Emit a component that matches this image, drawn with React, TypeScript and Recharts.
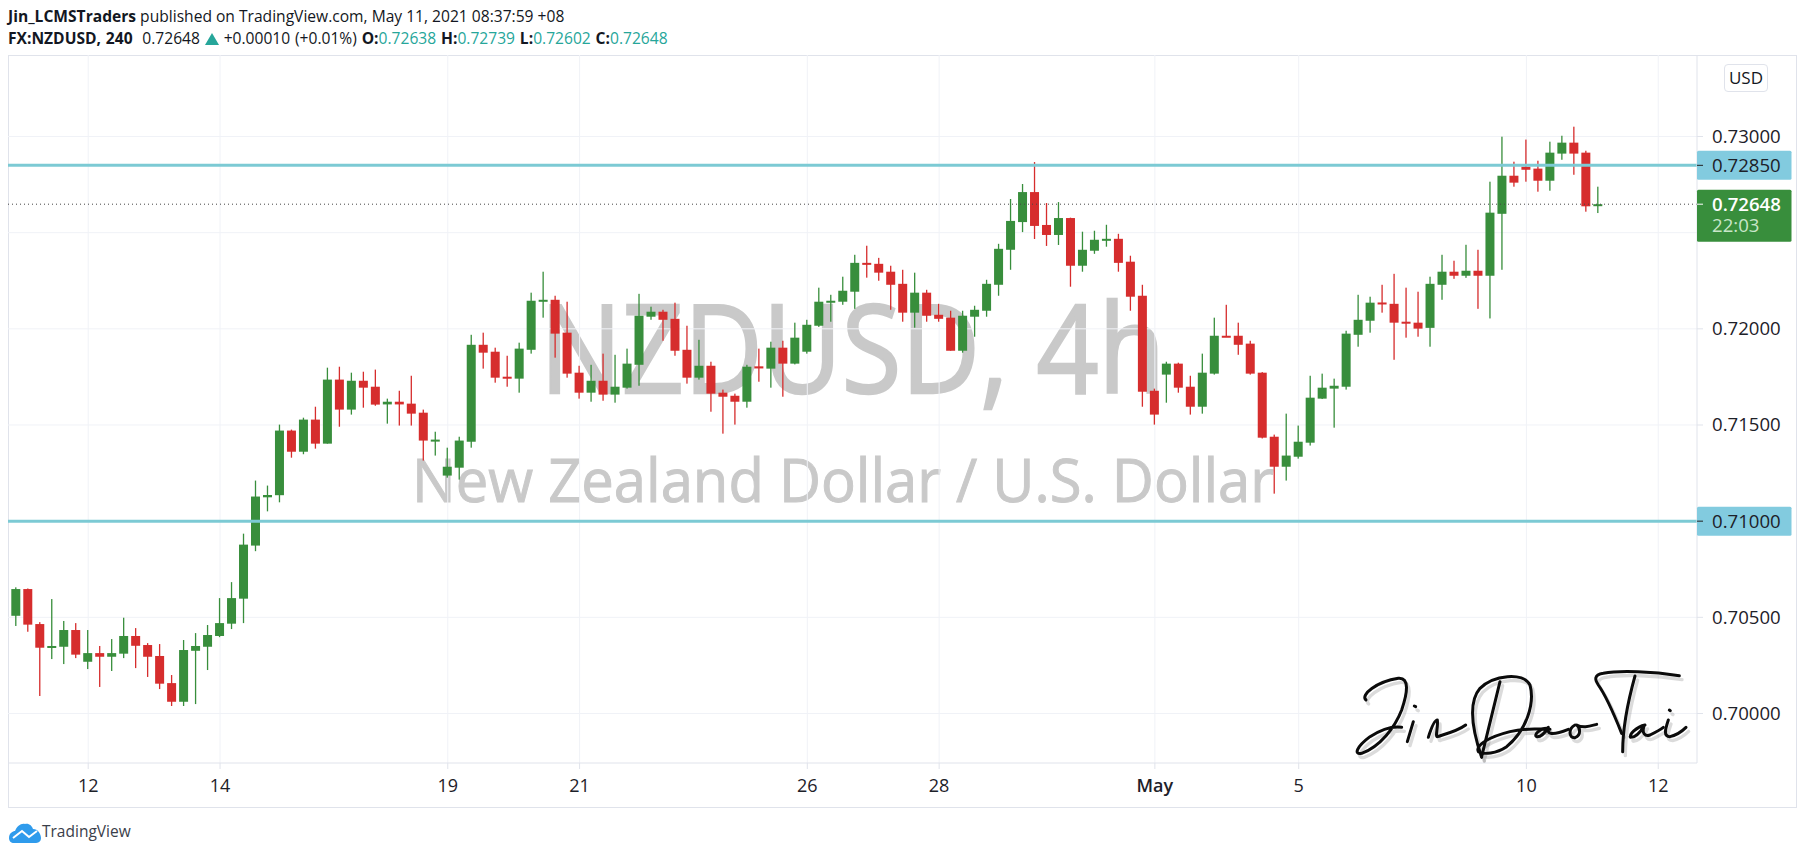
import React from "react";
import { ComposedChart, Bar, XAxis, YAxis, CartesianGrid, ReferenceLine } from "recharts";

const opens = [0.70508,0.70647,0.70465,0.70342,0.70347,0.70434,0.70269,0.70314,0.70295,0.70311,0.70403,0.70356,0.70299,0.70158,0.70061,0.70326,0.70347,0.70403,0.70467,0.70597,
0.70873,0.71124,0.71135,0.71471,0.71361,0.71528,0.71403,0.71736,0.71580,0.71730,0.71699,0.71607,0.71621,0.71611,0.71564,0.71420,0.71237,0.71278,0.71413,0.71917,
0.71881,0.71751,0.71741,0.71891,0.72141,0.72151,0.71980,0.71772,0.71668,0.71730,0.71658,0.71694,0.71813,0.72063,0.72089,0.72052,0.71891,0.71746,0.71808,0.71668,
0.71652,0.71621,0.71805,0.71793,0.71902,0.71819,0.71881,0.72016,0.72136,0.72141,0.72193,0.72343,0.72338,0.72297,0.72234,0.72084,0.72188,0.72073,0.72058,0.71886,
0.72063,0.72094,0.72229,0.72411,0.72555,0.72711,0.72540,0.72488,0.72576,0.72328,0.72406,0.72458,0.72468,0.72349,0.72172,0.71678,0.71762,0.71819,0.71699,0.71595,
0.71767,0.71964,0.71964,0.71923,0.71772,0.71439,0.71283,0.71335,0.71408,0.71637,0.71689,0.71699,0.71969,0.72042,0.72137,0.72130,0.72037,0.72032,0.72005,0.72229,
0.72297,0.72276,0.72302,0.72276,0.72598,0.72796,0.72843,0.72833,0.72770,0.72911,0.72968,0.72916,0.72638];
const highs = [0.70656,0.70650,0.70475,0.70595,0.70481,0.70470,0.70434,0.70351,0.70387,0.70498,0.70444,0.70366,0.70361,0.70200,0.70382,0.70418,0.70460,0.70600,0.70683,0.70935,
0.71211,0.71185,0.71502,0.71476,0.71538,0.71595,0.71798,0.71803,0.71772,0.71777,0.71788,0.71637,0.71678,0.71756,0.71580,0.71465,0.71382,0.71439,0.71969,0.71980,
0.71902,0.71860,0.71928,0.72188,0.72297,0.72172,0.72141,0.71808,0.71813,0.71871,0.71865,0.71897,0.72182,0.72115,0.72099,0.72136,0.72016,0.71943,0.71829,0.71684,
0.71663,0.71813,0.71897,0.71933,0.71938,0.72032,0.72047,0.72214,0.72177,0.72271,0.72385,0.72432,0.72369,0.72328,0.72307,0.72292,0.72203,0.72130,0.72094,0.72094,
0.72120,0.72255,0.72442,0.72675,0.72753,0.72867,0.72654,0.72659,0.72578,0.72505,0.72510,0.72541,0.72494,0.72380,0.72229,0.71689,0.71829,0.71824,0.71756,0.71871,
0.72058,0.72125,0.72032,0.71938,0.71775,0.71450,0.71559,0.71497,0.71756,0.71767,0.71741,0.71990,0.72177,0.72167,0.72229,0.72286,0.72214,0.72193,0.72271,0.72385,
0.72354,0.72437,0.72411,0.72765,0.72999,0.72869,0.72984,0.72874,0.72973,0.73004,0.73051,0.72926,0.72739];
const lows = [0.70455,0.70425,0.70091,0.70283,0.70257,0.70288,0.70231,0.70138,0.70221,0.70288,0.70236,0.70190,0.70127,0.70039,0.70039,0.70049,0.70226,0.70397,0.70439,0.70470,
0.70844,0.71051,0.71098,0.71330,0.71348,0.71377,0.71403,0.71491,0.71554,0.71590,0.71600,0.71507,0.71497,0.71497,0.71315,0.71341,0.71226,0.71216,0.71382,0.71793,
0.71720,0.71699,0.71668,0.71871,0.72058,0.71850,0.71746,0.71637,0.71621,0.71626,0.71616,0.71689,0.71704,0.72047,0.71938,0.71860,0.71715,0.71736,0.71569,0.71455,
0.71502,0.71590,0.71725,0.71694,0.71647,0.71815,0.71871,0.72010,0.72037,0.72125,0.72104,0.72266,0.72250,0.72099,0.72037,0.72006,0.72037,0.72037,0.71886,0.71876,
0.71959,0.72063,0.72172,0.72307,0.72503,0.72467,0.72431,0.72436,0.72219,0.72297,0.72390,0.72427,0.72297,0.72094,0.71595,0.71502,0.71616,0.71668,0.71554,0.71559,
0.71762,0.71959,0.71865,0.71762,0.71430,0.71143,0.71211,0.71325,0.71393,0.71635,0.71486,0.71684,0.71907,0.71980,0.72084,0.71839,0.71954,0.71959,0.71907,0.72151,
0.72260,0.72265,0.72104,0.72054,0.72307,0.72739,0.72765,0.72713,0.72718,0.72879,0.72801,0.72609,0.72602];
const closes = [0.70647,0.70462,0.70342,0.70351,0.70434,0.70306,0.70314,0.70295,0.70314,0.70403,0.70352,0.70295,0.70155,0.70061,0.70330,0.70351,0.70408,0.70470,0.70600,0.70878,
0.71128,0.71136,0.71471,0.71361,0.71528,0.71403,0.71736,0.71580,0.71730,0.71694,0.71606,0.71621,0.71607,0.71559,0.71419,0.71424,0.71283,0.71419,0.71917,0.71876,
0.71746,0.71741,0.71897,0.72146,0.72151,0.71975,0.71767,0.71668,0.71730,0.71658,0.71699,0.71819,0.72068,0.72089,0.72047,0.71886,0.71746,0.71808,0.71663,0.71647,
0.71621,0.71803,0.71794,0.71902,0.71819,0.71954,0.72021,0.72141,0.72146,0.72198,0.72343,0.72333,0.72292,0.72229,0.72084,0.72188,0.72068,0.72052,0.71886,0.72068,
0.72099,0.72234,0.72416,0.72561,0.72711,0.72535,0.72488,0.72576,0.72328,0.72411,0.72463,0.72468,0.72343,0.72167,0.71673,0.71554,0.71819,0.71694,0.71595,0.71772,
0.71964,0.71960,0.71917,0.71767,0.71434,0.71283,0.71341,0.71413,0.71642,0.71694,0.71704,0.71975,0.72047,0.72136,0.72127,0.72032,0.72028,0.72001,0.72234,0.72297,
0.72276,0.72302,0.72276,0.72604,0.72796,0.72760,0.72827,0.72770,0.72916,0.72968,0.72911,0.72637,0.72648];

const SLOT_COUNT = 140;
const dateTicks: [number, string][] = [[6,"12"],[17,"14"],[36,"19"],[47,"21"],[66,"26"],[77,"28"],[95,"May"],[107,"5"],[126,"10"],[137,"12"]];
const priceTicks = [0.70,0.705,0.71,0.715,0.72,0.72648,0.7285,0.73];
const gridPrices = [0.70,0.705,0.71,0.715,0.72,0.725,0.73];
const levels = [0.7285,0.71];
const lastPrice = 0.72648;
const countdown = "22:03";

const rows = Array.from({ length: SLOT_COUNT }, (_, i) => ({
  slot: i, open: opens[i], high: highs[i], low: lows[i], close: closes[i],
}));

const UI = '"Open Sans", sans-serif';
const GREEN = "#388e3c", RED = "#d62d2d", BLUE = "#82cbdf", LINE = "#7ccad4", BORDER = "#e0e3eb", GRID = "#f0f2f7";
const dateLabel = new Map(dateTicks);

const Candle = (p: any) => {
  const d = p.payload;
  if (!d || d.open === undefined || !p.height) return null;
  const k = p.height / (d.high - d.low);
  const t = p.y + (d.high - Math.max(d.open, d.close)) * k;
  const b = p.y + (d.high - Math.min(d.open, d.close)) * k;
  const fill = d.close >= d.open ? GREEN : RED;
  const cx = p.x + p.width / 2;
  return (
    <g>
      <rect x={cx - 0.65} y={p.y} width={1.3} height={p.height} fill={fill} />
      <rect x={p.x} y={t} width={p.width} height={Math.max(b - t, 2)} fill={fill} />
    </g>
  );
};

const PriceTick = (p: any) => {
  const v = p.payload.value;
  const { x, y } = p;
  const isLevel = levels.includes(v);
  const isLast = v === lastPrice;
  return (
    <g>
      {isLevel && <rect x={x} y={y - 14.5} width={94.5} height={29} rx={1.5} fill={BLUE} />}
      {isLast && <rect x={x} y={y - 14.5} width={94.5} height={52} rx={1.5} fill={GREEN} />}
      <line x1={x} x2={x + 6} y1={y} y2={y} stroke={isLast ? "#ffffff" : isLevel ? "#222" : BORDER} />
      <text x={x + 15} y={y + 6.5} fontFamily={UI} fontSize={18.6} fontWeight={isLast ? 600 : 400} fill={isLast ? "#fff" : "#1d2129"}>{v.toFixed(5)}</text>
      {isLast && <text x={x + 15} y={y + 28} fontFamily={UI} fontSize={18.6} fill="#c8e6c9">{countdown}</text>}
    </g>
  );
};

const DateTick = (p: any) => {
  const label = dateLabel.get(p.payload.value);
  if (!label) return null;
  return (
    <g>
      <line x1={p.x} x2={p.x} y1={p.y} y2={p.y + 6} stroke={BORDER} />
      <text x={p.x} y={p.y + 29} textAnchor="middle" fontFamily={UI} fontSize={18} fontWeight={label === "May" ? 600 : 400} fill="#1d2129">{label}</text>
    </g>
  );
};

const sigPaths = [
  "M138 180 C120 165 170 125 235 115 C270 112 262 160 245 210 C225 262 180 320 125 340 C100 345 110 320 150 290 C185 268 220 258 245 262",
  "M262 305 L280 245", "M283 198 L287 200",
  "M325 292 C335 260 345 240 352 240 C355 260 345 290 352 290 C365 285 410 275 437 255",
  "M540 125 L485 350",
  "M485 352 C450 250 450 180 480 145 C520 105 610 95 630 135 C645 190 620 270 560 320 C530 340 490 345 475 335 C465 315 510 290 570 275 C620 262 650 268 690 268",
  "M680 265 C660 265 640 285 650 290 C665 292 680 270 685 262 C680 280 690 290 745 268",
  "M765 255 C745 265 745 295 765 293 C785 285 780 262 770 255 C790 265 810 258 830 253",
  "M1078 107 C1000 95 900 90 850 100 C820 105 825 120 835 135 C860 170 885 230 905 280",
  "M945 108 C925 180 908 260 908 335",
  "M975 255 C950 260 925 285 932 292 C950 292 965 270 972 258 C965 280 975 290 990 285 C1010 275 1020 270 1030 262",
  "M1048 210 L1051 212",
  "M1045 240 C1035 270 1030 290 1050 290 C1070 285 1085 275 1098 262",
];

const abs = (o: React.CSSProperties): React.CSSProperties => ({ position: "absolute", whiteSpace: "nowrap", ...o });
const teal: React.CSSProperties = { color: "#26a69a" };

export default function App() {
  return (
    <div style={{ position: "absolute", left: 0, top: 0, width: 1805, height: 855, background: "#fff", overflow: "hidden", fontFamily: UI, color: "#131722" }}>
      <div style={abs({ left: 8, top: 6, fontSize: 15.6, lineHeight: "21px" })}><b>Jin_LCMSTraders</b> published on TradingView.com, May 11, 2021 08:37:59 +08</div>
      <div style={abs({ left: 8, top: 28, fontSize: 15.6, lineHeight: "21px", wordSpacing: 0.8 })}>
        <b>FX:NZDUSD, 240</b>&nbsp; 0.72648 <svg width={14} height={12} viewBox="0 0 14 12" style={{ verticalAlign: -1 }}><path d="M7 0 L14 12 L0 12 Z" fill="#26a69a" /></svg> +0.00010 (+0.01%) <b>O:</b><span style={teal}>0.72638</span> <b>H:</b><span style={teal}>0.72739</span> <b>L:</b><span style={teal}>0.72602</span> <b>C:</b><span style={teal}>0.72648</span>
      </div>

      <div style={abs({ left: 8, top: 55, width: 1789, height: 753, boxSizing: "border-box", border: `1px solid ${BORDER}` })} />

      <div style={abs({ left: 540, top: 263, fontSize: 122, lineHeight: "166px", color: "#c9c9c9", WebkitTextStroke: "2.5px #c9c9c9", transform: "scaleX(0.89)", transformOrigin: "left center" })}>NZDUSD, 4h</div>
      <div style={abs({ left: 412, top: 437, fontSize: 61, lineHeight: "84px", color: "#c9c9c9", WebkitTextStroke: "1px #c9c9c9", transform: "scaleX(0.95)", transformOrigin: "left center" })}>New Zealand Dollar / U.S. Dollar</div>

      <div style={abs({ left: 8, top: 55 })}>
        <ComposedChart width={1789} height={753} data={rows} margin={{ top: 0, right: 0, bottom: 0, left: 0 }} barSize={9}>
          <CartesianGrid stroke={GRID} horizontalValues={gridPrices} verticalValues={dateTicks.map((t) => t[0])} />
          <XAxis dataKey="slot" type="category" interval={0} height={45} padding={{ left: 2.3, right: 8.8 }}
            axisLine={{ stroke: BORDER }} tickLine={false} tickSize={0} tickMargin={0} tick={<DateTick />} />
          <YAxis orientation="right" type="number" width={100} domain={[0.697426, 0.734237]} allowDataOverflow ticks={priceTicks}
            interval={0} axisLine={{ stroke: BORDER }} tickLine={false} tickSize={0} tickMargin={0} tick={<PriceTick />} />
          {levels.map((v) => <ReferenceLine key={v} y={v} stroke={LINE} strokeWidth={3} />)}
          <ReferenceLine y={lastPrice} stroke="#444" strokeWidth={1} strokeDasharray="1 3" />
          <Bar dataKey={(d: any) => (d.open === undefined ? null : [d.low, d.high])} shape={<Candle />} isAnimationActive={false} />
        </ComposedChart>
      </div>

      <div style={abs({ left: 1724, top: 64, width: 44, height: 28, boxSizing: "border-box", border: `1px solid ${BORDER}`, borderRadius: 4, fontSize: 17, lineHeight: "26px", textAlign: "center" })}>USD</div>

      <svg style={{ position: "absolute", left: 1320, top: 640 }} width={485} height={215} viewBox="0 0 1455 645" fill="none" strokeLinecap="round" strokeLinejoin="round">
        <title>Jin Dao Tai</title>
        <g stroke="#000" strokeOpacity={0.14} strokeWidth={10} transform="translate(8 12)">{sigPaths.map((d, i) => <path key={i} d={d} />)}</g>
        <g stroke="#0b0b0b" strokeWidth={9}>{sigPaths.map((d, i) => <path key={i} d={d} />)}</g>
      </svg>

      <svg style={{ position: "absolute", left: 8, top: 822 }} width={34} height={22} viewBox="0 0 34 22">
        <path d="M1 16 C1 11 5 9 7 9 C9 4 13 1 17 2 C21 1 24 4 25 7 C30 7 33 12 33 16 C33 20 30 21 27 21 L6 21 C3 21 1 19 1 16 Z" fill="#2f9bec" />
        <path d="M5 16 L14 9 L21 15 L29 9" stroke="#fff" strokeWidth={2} fill="none" />
      </svg>
      <div style={abs({ left: 42, top: 820, fontSize: 15.5, lineHeight: "22px", color: "#3a3e4a" })}>TradingView</div>
    </div>
  );
}
